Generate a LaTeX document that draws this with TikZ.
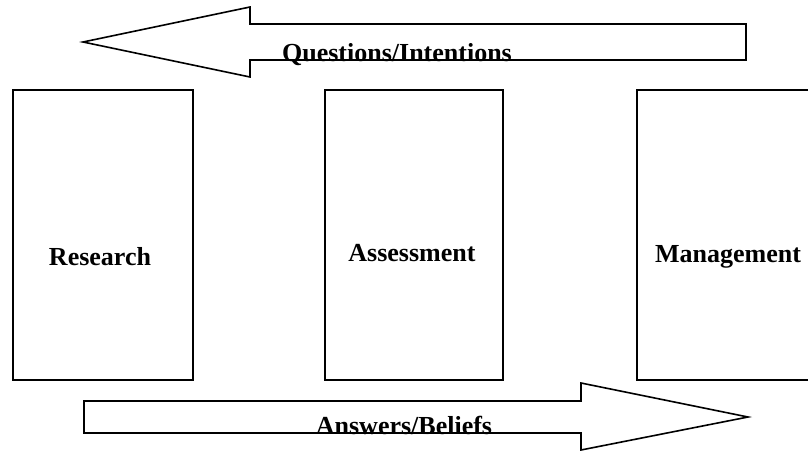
\documentclass[tikz,border=0pt]{standalone}
\usepackage{fontspec}
\setmainfont{Liberation Serif}
\usepackage{tikz}
\usetikzlibrary{positioning}

\begin{document}
\begin{tikzpicture}[x=1pt, y=-1pt,
        box/.style = {draw, line width=1.6pt, minimum height=290pt, inner sep=0pt},
        word/.style = {anchor=base, inner sep=0pt, font=\fontsize{26}{30}\selectfont\bfseries},
        blockarrow/.style = {draw, line width=1.6pt, line join=miter, fill=white}]
                \useasboundingbox (0,0) rectangle (808,450);

                \node[box, minimum width=180pt] at (102.75, 235) (research) {};
                \node[box, minimum width=178pt] at (414, 235) (assessment) {};
                \node[box, minimum width=182pt] at (728, 235) (management) {};

                \node[word] at (100, 265) (researchtext) {Research};
                \node[word] at (412, 261) (assessmenttext) {Assessment};
                \node[word] at (728, 262) (managementtext) {Management};

                % questions flow back to research
                \draw[blockarrow] (83,42) -- (250,7) -- (250,24) -- (746,24) -- (746,60)
                        -- (250,60) -- (250,77) -- cycle;
                \node[word] at (397, 61) (questions) {Questions/Intentions};

                % answers flow on to management
                \draw[blockarrow] (748,417) -- (581,383) -- (581,401) -- (84,401) -- (84,433)
                        -- (581,433) -- (581,450) -- cycle;
                \node[word] at (404, 434) (answers) {Answers/Beliefs};
            \end{tikzpicture}
\end{document}
